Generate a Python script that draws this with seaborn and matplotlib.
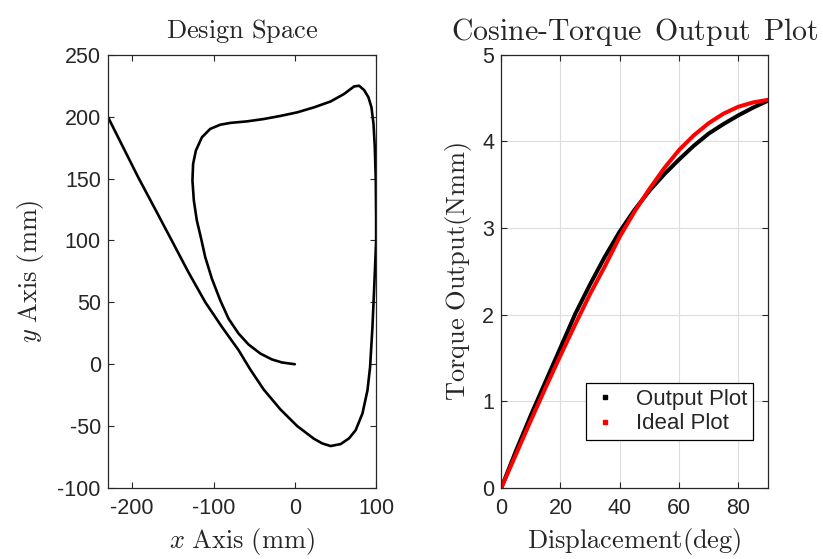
import matplotlib
matplotlib.use("Agg")
import matplotlib.pyplot as plt
from matplotlib.lines import Line2D
import seaborn as sns
import pandas as pd

# Path traced in the design space, in drawing order (mm)
path_x = [0, -15.6, -27.9, -42.3, -56.8, -69.1, -81.5, -91.7, -102, -110.2, -115.2,
          -120.5, -124.2, -125.9, -125.1, -121.7, -114.3, -104.1, -91.7, -79, -58.8,
          -38.3, -17.7, 3, 23.5, 44.1, 60.5, 72.8, 79, 85.2, 90.6, 94.3, 96.8, 98.4,
          99.6, 100, 100, 98.8, 97.5, 95.5, 92.6, 89.4, 83.2, 74.9, 66.7, 56.4, 44.1,
          33.8, 23.5, 3, -17.7, -38.3, -55, -69.1, -89.6, -110.2, -130.9, -151.4,
          -172, -192.6, -211.1, -229.6]
path_y = [0, 1.4, 3.8, 8.6, 15.9, 24.7, 36.8, 51.6, 69.1, 86.6, 101.4, 116.1, 132.3,
          148.4, 161.8, 172.6, 183.3, 190.1, 193.5, 195, 196.2, 198.1, 200.6, 203.5,
          207.5, 212.3, 218.3, 224.4, 225, 221.5, 215.6, 207.5, 194.1, 175.3, 148.4,
          120, 100, 80, 59.7, 30.1, -2.2, -21, -39.8, -53.2, -59.9, -64.5, -66.1,
          -64, -60.2, -50, -36.5, -20.4, -4, 11.3, 30.1, 50.2, 74.4, 100, 125.6, 151,
          175.2, 199.4]

# Torque curves (deg, Nmm)
displacement = [0, 5, 10, 15, 20, 25, 30, 35, 40, 45, 50, 55, 60, 65, 70, 75, 80, 85, 90]
output_torque = [0.0, 0.43, 0.84, 1.23, 1.62, 2.01, 2.35, 2.67, 2.96, 3.21, 3.43, 3.62,
                 3.79, 3.95, 4.09, 4.20, 4.30, 4.39, 4.47]
ideal_torque = [0.0, 0.39, 0.78, 1.16, 1.53, 1.89, 2.24, 2.56, 2.90, 3.19, 3.45, 3.69,
                3.90, 4.07, 4.21, 4.32, 4.40, 4.45, 4.48]

x_ticks_left = [-200, -100, 0, 100]
y_ticks_left = [-100, -50, 0, 50, 100, 150, 200, 250]
x_ticks_right = [0, 20, 40, 60, 80]
y_ticks_right = [0, 1, 2, 3, 4, 5]

sns.set_style("white")
plt.rcParams["font.family"] = ["Liberation Sans", "DejaVu Sans"]
plt.rcParams["mathtext.fontset"] = "cm"
plt.rcParams["axes.unicode_minus"] = False

INK = "#262626"
SERIF_SIZE = 19

fig = plt.figure(figsize=(8.23, 5.59), dpi=100)
ax1 = fig.add_axes([0.131, 0.127, 0.326, 0.775])
ax2 = fig.add_axes([0.609, 0.127, 0.324, 0.775])

path_df = pd.DataFrame({"x": path_x, "y": path_y})
sns.lineplot(data=path_df, x="x", y="y", sort=False, estimator=None,
             color="black", linewidth=1.9, ax=ax1)

torque_df = pd.DataFrame({"deg": displacement, "out": output_torque, "ideal": ideal_torque})
sns.lineplot(data=torque_df, x="deg", y="out", sort=False, estimator=None,
             color="black", linewidth=2.9, ax=ax2)
sns.lineplot(data=torque_df, x="deg", y="ideal", sort=False, estimator=None,
             color="#ff0000", linewidth=2.9, ax=ax2)

ax1.set_xlim(-230, 100)
ax1.set_ylim(-100, 250)
ax1.set_xticks(x_ticks_left)
ax1.set_yticks(y_ticks_left)
ax1.set_title(r"$\mathrm{Design\ Space}$", fontsize=SERIF_SIZE, color=INK, pad=12)
ax1.set_xlabel(r"$x\ \mathrm{Axis\ (mm)}$", fontsize=SERIF_SIZE, color=INK, labelpad=5)
ax1.set_ylabel(r"$y\ \mathrm{Axis\ (mm)}$", fontsize=SERIF_SIZE, color=INK, labelpad=8)

ax2.set_xlim(0, 90)
ax2.set_ylim(0, 5)
ax2.set_xticks(x_ticks_right)
ax2.set_yticks(y_ticks_right)
ax2.grid(True, color="#dcdcdc", linewidth=0.8)
ax2.set_axisbelow(True)
ax2.set_title(r"$\mathrm{Cosine\text{-}Torque\ \,Output\ \,Plot}$",
              fontsize=21.5, color=INK, pad=11)
ax2.set_xlabel(r"$\mathrm{Displacement(deg)}$", fontsize=SERIF_SIZE, color=INK, labelpad=5)
ax2.set_ylabel(r"$\mathrm{Torque\ Output(Nmm)}$", fontsize=SERIF_SIZE, color=INK, labelpad=6)

for ax in (ax1, ax2):
    for s in ax.spines.values():
        s.set_visible(True)
        s.set_color(INK)
        s.set_linewidth(0.9)
    ax.tick_params(direction="in", length=4, width=0.8, colors=INK,
                   labelsize=15.5, top=True, right=True, bottom=True, left=True)
    ax.tick_params(axis="x", pad=7)
    ax.tick_params(axis="y", pad=5)

handles = [Line2D([], [], ls="none", marker="s", markersize=2.2, color="black"),
           Line2D([], [], ls="none", marker="s", markersize=2.2, color="#ff0000")]
leg = ax2.legend(handles, ["Output Plot", "Ideal Plot"], loc="lower right",
                 bbox_to_anchor=(0.944, 0.111), borderaxespad=0, fontsize=16,
                 frameon=True, fancybox=False, edgecolor="black", framealpha=1,
                 handlelength=1.2, handletextpad=0.8, borderpad=0.25, labelspacing=0.15)
leg.get_frame().set_linewidth(0.9)

fig.savefig("out.png", dpi=100)
